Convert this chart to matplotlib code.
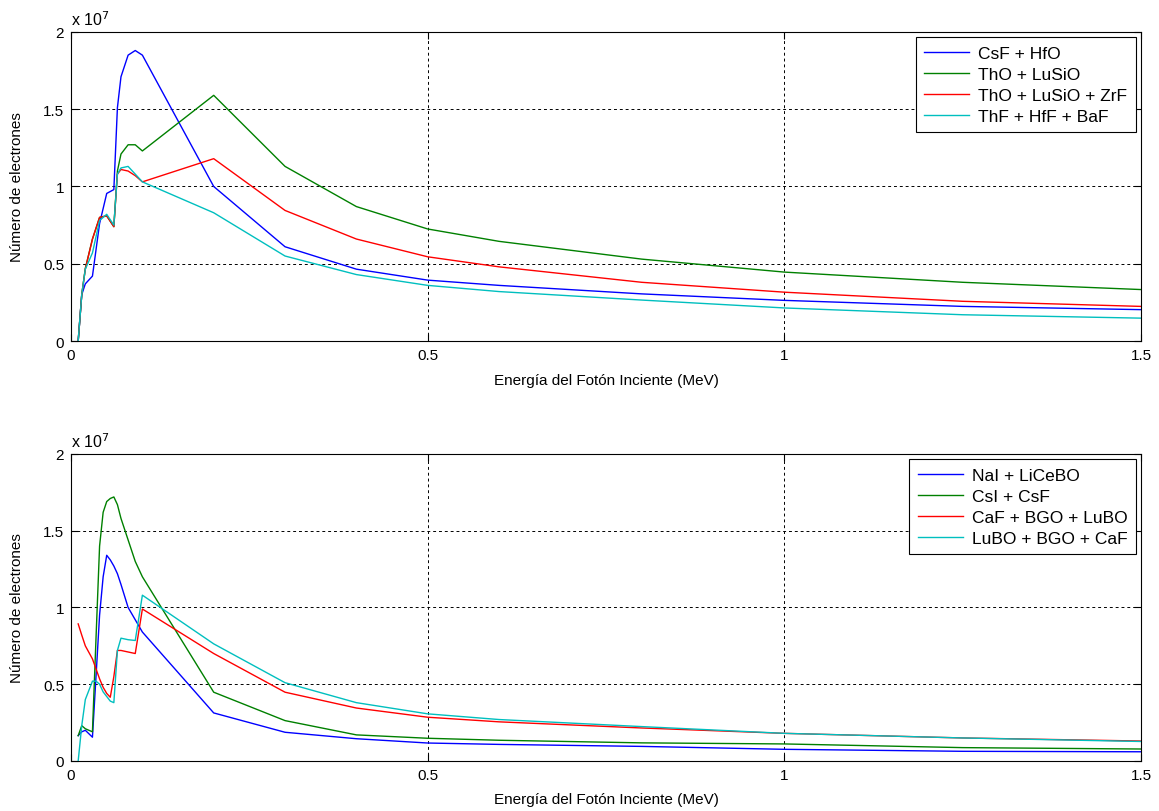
import numpy as np
import matplotlib
matplotlib.use("Agg")
import matplotlib.pyplot as plt
from matplotlib.ticker import FuncFormatter

plt.rcParams['font.family'] = ['Liberation Sans', 'DejaVu Sans']

# ---- top panel data (values in units of 1e7 electrons) ----
e_top = [0.01, 0.015, 0.02, 0.03, 0.04, 0.05, 0.06, 0.065, 0.07, 0.08, 0.09, 0.1,
         0.2, 0.3, 0.4, 0.5, 0.6, 0.8, 1.0, 1.25, 1.5]
csf_hfo = [0.0, 0.30, 0.37, 0.42, 0.76, 0.955, 0.98, 1.51, 1.71, 1.85, 1.88, 1.85,
           1.0, 0.61, 0.465, 0.394, 0.36, 0.305, 0.263, 0.224, 0.203]
tho_lusio = [0.0, 0.30, 0.47, 0.66, 0.80, 0.81, 0.74, 1.10, 1.21, 1.27, 1.27, 1.23,
             1.59, 1.13, 0.87, 0.725, 0.645, 0.53, 0.446, 0.38, 0.333]
tho_lusio_zrf = [0.0, 0.30, 0.465, 0.66, 0.80, 0.81, 0.74, 1.08, 1.11, 1.10, 1.07, 1.03,
                 1.18, 0.845, 0.66, 0.545, 0.48, 0.38, 0.316, 0.257, 0.224]
thf_hff_baf = [0.0, 0.30, 0.465, 0.57, 0.78, 0.82, 0.75, 1.08, 1.12, 1.13, 1.08, 1.03,
               0.83, 0.55, 0.43, 0.36, 0.32, 0.265, 0.214, 0.17, 0.148]
labels_top = ['CsF + HfO', 'ThO + LuSiO', 'ThO + LuSiO + ZrF', 'ThF + HfF + BaF']

# ---- bottom panel data ----
e_bot = [0.01, 0.015, 0.02, 0.03, 0.035, 0.04, 0.045, 0.05, 0.055, 0.06, 0.065, 0.07,
         0.08, 0.09, 0.1, 0.2, 0.3, 0.4, 0.5, 0.6, 0.8, 1.0, 1.25, 1.5]
nai_licebo = [0.165, 0.19, 0.20, 0.155, 0.55, 0.95, 1.20, 1.34, 1.31, 1.27, 1.22, 1.15,
              1.00, 0.92, 0.84, 0.313, 0.187, 0.145, 0.117, 0.108, 0.095, 0.076, 0.063, 0.06]
csi_csf = [0.165, 0.23, 0.21, 0.19, 0.80, 1.40, 1.62, 1.69, 1.71, 1.72, 1.67, 1.58,
           1.44, 1.30, 1.20, 0.448, 0.263, 0.17, 0.148, 0.135, 0.118, 0.111, 0.087, 0.078]
caf_bgo_lubo = [0.893, 0.82, 0.75, 0.665, 0.60, 0.535, 0.48, 0.44, 0.415, 0.55, 0.72, 0.72,
                0.71, 0.70, 0.99, 0.70, 0.448, 0.345, 0.285, 0.255, 0.215, 0.18, 0.15, 0.13]
lubo_bgo_caf = [0.0, 0.23, 0.40, 0.52, 0.52, 0.50, 0.45, 0.42, 0.39, 0.38, 0.72, 0.80,
                0.79, 0.785, 1.08, 0.763, 0.51, 0.38, 0.307, 0.27, 0.224, 0.18, 0.15, 0.127]
labels_bot = ['NaI + LiCeBO', 'CsI + CsF', 'CaF + BGO + LuBO', 'LuBO + BGO + CaF']

colors = ['#0000ff', '#008000', '#ff0000', '#00bfbf']
x_ticks = [0, 0.5, 1, 1.5]
y_ticks = [0, 0.5, 1, 1.5, 2]

fig = plt.figure(figsize=(11.59, 8.12), dpi=100)
ax1 = fig.add_axes([0.0613, 0.5788, 0.9232, 0.3806])
ax2 = fig.add_axes([0.0613, 0.0616, 0.9232, 0.3781])

panels = [(ax1, e_top, [csf_hfo, tho_lusio, tho_lusio_zrf, thf_hff_baf], labels_top),
          (ax2, e_bot, [nai_licebo, csi_csf, caf_bgo_lubo, lubo_bgo_caf], labels_bot)]

fmt = FuncFormatter(lambda v, p: '%g' % v)
for ax, e, series, labels in panels:
    for s, c, lab in zip(series, colors, labels):
        ax.plot(e, s, color=c, lw=1.0, label=lab)
    ax.set_xlim(0, 1.5)
    ax.set_ylim(0, 2)
    ax.set_xticks(x_ticks)
    ax.set_yticks(y_ticks)
    ax.xaxis.set_major_formatter(fmt)
    ax.yaxis.set_major_formatter(fmt)
    ax.tick_params(direction='in', length=5, labelsize=11, top=True, right=True,
                   labeltop=False, labelright=False, pad=5)
    ax.grid(True, color='black', linestyle=(0, (3, 3)), linewidth=0.7)
    for sp in ax.spines.values():
        sp.set_linewidth(0.8)
    ax.set_xlabel('Energía del Fotón Inciente (MeV)', fontsize=11)
    ax.xaxis.set_label_coords(0.5, -0.102)
    ax.set_ylabel('Número de electrones', fontsize=11)
    ax.yaxis.set_label_coords(-0.044, 0.5)
    ax.text(0.0, 1.012, r'x 10$^{7}$', transform=ax.transAxes, fontsize=11.5,
            ha='left', va='bottom')
    leg = ax.legend(loc='upper right', fontsize=12.5, fancybox=False, framealpha=1,
                    edgecolor='black', borderaxespad=0.3, handlelength=2.6,
                    handletextpad=0.5, labelspacing=0.33, borderpad=0.5)
    leg.get_frame().set_linewidth(0.8)

fig.savefig('out.png', dpi=100, facecolor='white')
